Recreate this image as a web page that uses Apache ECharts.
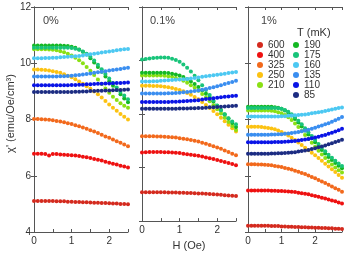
<!DOCTYPE html>
<html><head><meta charset="utf-8">
<script src="https://cdn.jsdelivr.net/npm/echarts@6/dist/echarts.min.js"></script>
<style>html,body{margin:0;padding:0;background:#fff}#c{width:345px;height:256px}</style>
</head><body><div id="c"></div><script>
// Field values (Oe)
const hA = [0,0.1,0.2,0.3,0.4,0.5,0.6,0.7,0.8,0.9,1.0,1.1,1.2,1.3,1.4,1.5,1.6,1.7,1.8,1.9,2.0,2.1,2.2,2.3,2.4,2.5];
const hC = [0,0.1,0.2,0.3,0.4,0.5,0.6,0.7,0.8,0.9,1.0,1.1,1.2,1.3,1.4,1.5,1.6,1.7,1.8,1.9,2.0,2.1,2.2,2.3,2.4,2.5,2.6,2.7,2.8];
const temps = ['600','400','325','250','210','190','175','160','135','110','85'];
const panelLabels = ['0%','0.1%','1%'];
const yTicks = [4,6,8,10,12];
const xTicks = [0,1,2];

// Panel 0%
const p0_600 = [5.10,5.10,5.10,5.10,5.10,5.10,5.09,5.09,5.09,5.08,5.08,5.07,5.07,5.06,5.06,5.05,5.04,5.04,5.03,5.03,5.02,5.01,5.01,5.00,5.00,4.99];
const p0_400 = [6.78,6.78,6.78,6.77,6.72,6.77,6.77,6.76,6.75,6.74,6.73,6.72,6.70,6.68,6.66,6.63,6.60,6.57,6.54,6.50,6.46,6.43,6.40,6.36,6.33,6.29];
const p0_325 = [8.02,8.02,8.01,8.00,7.99,7.97,7.95,7.93,7.90,7.87,7.84,7.80,7.76,7.72,7.67,7.62,7.57,7.52,7.46,7.40,7.35,7.29,7.23,7.17,7.11,7.05];
const p0_250 = [9.78,9.78,9.77,9.76,9.74,9.72,9.69,9.66,9.61,9.56,9.50,9.43,9.35,9.27,9.18,9.09,9.00,8.90,8.78,8.66,8.53,8.42,8.31,8.20,8.10,8.00];
const p0_210 = [10.50,10.50,10.50,10.50,10.49,10.48,10.46,10.43,10.39,10.34,10.28,10.20,10.11,10.00,9.87,9.73,9.58,9.42,9.26,9.10,8.95,8.81,8.69,8.58,8.49,8.42];
const p0_190 = [10.63,10.63,10.63,10.63,10.63,10.63,10.63,10.63,10.62,10.61,10.59,10.55,10.49,10.41,10.31,10.18,10.03,9.87,9.70,9.53,9.36,9.20,9.05,8.90,8.75,8.61];
const p0_175 = [10.55,10.55,10.55,10.55,10.55,10.55,10.55,10.55,10.55,10.55,10.54,10.52,10.48,10.42,10.34,10.23,10.10,9.95,9.79,9.62,9.46,9.30,9.14,8.99,8.85,8.72];
const p0_160 = [10.18,10.18,10.18,10.19,10.19,10.20,10.20,10.21,10.22,10.23,10.24,10.25,10.26,10.28,10.30,10.32,10.34,10.36,10.38,10.40,10.42,10.44,10.46,10.48,10.50,10.51];
const p0_135 = [9.53,9.53,9.53,9.53,9.53,9.53,9.53,9.54,9.54,9.55,9.56,9.57,9.58,9.60,9.62,9.64,9.66,9.68,9.70,9.72,9.74,9.76,9.78,9.80,9.82,9.84];
const p0_110 = [9.22,9.22,9.22,9.22,9.22,9.22,9.22,9.22,9.22,9.22,9.23,9.23,9.24,9.24,9.25,9.25,9.26,9.27,9.27,9.28,9.28,9.29,9.30,9.30,9.31,9.32];
const p0_85  = [8.98,8.98,8.98,8.98,8.98,8.98,8.98,8.98,8.98,8.98,8.98,8.99,8.99,9.00,9.00,9.01,9.01,9.02,9.02,9.03,9.03,9.04,9.05,9.05,9.06,9.07];

// Panel 0.1%
const p1_600 = [5.08,5.08,5.08,5.08,5.08,5.08,5.08,5.07,5.07,5.07,5.06,5.06,5.05,5.05,5.04,5.03,5.03,5.02,5.01,5.00,4.99,4.98,4.97,4.96,4.95,4.94];
const p1_400 = [6.56,6.57,6.58,6.58,6.58,6.58,6.57,6.57,6.56,6.55,6.54,6.52,6.50,6.48,6.46,6.44,6.41,6.38,6.35,6.32,6.28,6.25,6.21,6.17,6.13,6.09];
const p1_325 = [7.17,7.17,7.17,7.17,7.16,7.16,7.15,7.14,7.13,7.12,7.10,7.08,7.06,7.03,7.00,6.97,6.93,6.89,6.84,6.80,6.75,6.70,6.64,6.58,6.52,6.46];
const p1_250 = [9.06,9.06,9.06,9.05,9.05,9.04,9.02,9.00,8.97,8.94,8.90,8.85,8.79,8.72,8.64,8.55,8.45,8.34,8.23,8.11,7.99,7.86,7.73,7.60,7.47,7.35];
const p1_210 = [9.44,9.44,9.44,9.44,9.44,9.44,9.43,9.41,9.39,9.35,9.30,9.24,9.17,9.08,8.98,8.87,8.75,8.62,8.48,8.33,8.18,8.02,7.86,7.70,7.55,7.40];
const p1_190 = [9.54,9.54,9.54,9.54,9.54,9.54,9.54,9.53,9.51,9.48,9.44,9.38,9.31,9.22,9.12,9.01,8.89,8.76,8.62,8.47,8.31,8.15,7.99,7.83,7.67,7.52];
const p1_175 = [10.04,10.06,10.08,10.09,10.10,10.11,10.11,10.10,10.07,10.02,9.95,9.85,9.73,9.59,9.43,9.26,9.08,8.90,8.71,8.51,8.32,8.14,7.98,7.84,7.72,7.62];
const p1_160 = [9.22,9.22,9.22,9.23,9.23,9.24,9.25,9.26,9.27,9.28,9.29,9.30,9.31,9.33,9.35,9.37,9.39,9.41,9.43,9.45,9.47,9.49,9.51,9.53,9.55,9.57];
const p1_135 = [8.77,8.77,8.77,8.77,8.77,8.77,8.77,8.78,8.78,8.79,8.80,8.81,8.82,8.84,8.86,8.88,8.91,8.94,8.97,9.00,9.04,9.08,9.12,9.16,9.20,9.24];
const p1_110 = [8.45,8.45,8.45,8.45,8.45,8.45,8.45,8.45,8.46,8.46,8.47,8.48,8.49,8.50,8.51,8.52,8.54,8.56,8.57,8.59,8.61,8.63,8.65,8.66,8.67,8.68];
const p1_85  = [8.20,8.20,8.20,8.20,8.20,8.20,8.20,8.20,8.20,8.20,8.21,8.21,8.21,8.22,8.22,8.23,8.23,8.24,8.25,8.25,8.26,8.27,8.28,8.29,8.30,8.31];

// Panel 1%
const p2_600 = [4.22,4.22,4.22,4.22,4.22,4.22,4.22,4.21,4.21,4.21,4.20,4.20,4.19,4.19,4.18,4.18,4.17,4.17,4.16,4.16,4.15,4.15,4.14,4.14,4.13,4.13,4.12,4.12,4.11];
const p2_400 = [5.48,5.48,5.48,5.48,5.48,5.48,5.48,5.47,5.47,5.46,5.46,5.45,5.44,5.43,5.42,5.40,5.38,5.36,5.34,5.31,5.28,5.25,5.22,5.19,5.16,5.12,5.09,5.05,5.01];
const p2_325 = [6.41,6.41,6.41,6.40,6.40,6.39,6.38,6.37,6.35,6.33,6.31,6.28,6.25,6.22,6.18,6.14,6.10,6.06,6.01,5.96,5.91,5.85,5.80,5.74,5.68,5.62,5.56,5.50,5.43];
const p2_250 = [7.74,7.74,7.74,7.74,7.73,7.72,7.70,7.68,7.65,7.61,7.56,7.50,7.43,7.35,7.27,7.18,7.09,7.00,6.91,6.82,6.73,6.63,6.53,6.43,6.33,6.23,6.13,6.03,5.93];
const p2_210 = [8.32,8.32,8.32,8.32,8.32,8.32,8.32,8.31,8.29,8.26,8.22,8.16,8.08,7.98,7.86,7.73,7.59,7.45,7.31,7.17,7.03,6.89,6.76,6.63,6.51,6.40,6.29,6.20,6.12];
const p2_190 = [8.45,8.45,8.45,8.45,8.45,8.45,8.45,8.45,8.44,8.42,8.38,8.32,8.24,8.14,8.02,7.89,7.75,7.61,7.47,7.33,7.19,7.05,6.92,6.79,6.67,6.56,6.45,6.36,6.27];
const p2_175 = [8.41,8.41,8.41,8.41,8.41,8.41,8.41,8.41,8.41,8.40,8.38,8.34,8.28,8.19,8.08,7.96,7.83,7.69,7.55,7.41,7.27,7.13,7.00,6.87,6.75,6.64,6.53,6.44,6.35];
const p2_160 = [8.11,8.11,8.11,8.11,8.11,8.11,8.11,8.11,8.11,8.11,8.12,8.12,8.13,8.14,8.15,8.16,8.17,8.18,8.20,8.22,8.24,8.26,8.28,8.30,8.33,8.36,8.38,8.41,8.43];
const p2_135 = [7.46,7.46,7.46,7.46,7.46,7.46,7.46,7.47,7.47,7.48,7.48,7.49,7.50,7.52,7.54,7.56,7.58,7.61,7.64,7.67,7.71,7.75,7.79,7.83,7.87,7.92,7.97,8.03,8.09];
const p2_110 = [7.19,7.19,7.19,7.19,7.19,7.19,7.19,7.19,7.20,7.20,7.20,7.21,7.22,7.23,7.24,7.25,7.27,7.29,7.31,7.33,7.36,7.39,7.42,7.45,7.49,7.53,7.57,7.62,7.67];
const p2_85  = [6.78,6.78,6.78,6.78,6.78,6.78,6.78,6.79,6.79,6.80,6.80,6.81,6.82,6.83,6.84,6.86,6.88,6.90,6.92,6.95,6.98,7.01,7.04,7.08,7.12,7.16,7.20,7.24,7.28];

const colors = {'600':'#d42a1e','400':'#ee1111','325':'#f2691c','250':'#fcc212','210':'#8ae014','190':'#14b824','175':'#18c47a','160':'#4cc8f2','135':'#3a8ef0','110':'#0a14e6','85':'#1c2c82'};

const panels = [
  {h: hA, max: 2.5, vals: [p0_600,p0_400,p0_325,p0_250,p0_210,p0_190,p0_175,p0_160,p0_135,p0_110,p0_85]},
  {h: hA, max: 2.5, vals: [p1_600,p1_400,p1_325,p1_250,p1_210,p1_190,p1_175,p1_160,p1_135,p1_110,p1_85]},
  {h: hC, max: 2.8, vals: [p2_600,p2_400,p2_325,p2_250,p2_210,p2_190,p2_175,p2_160,p2_135,p2_110,p2_85]}
];
const gridLefts = [34, 142, 248];
const FONT = 'Liberation Sans, Arial, sans-serif';
const AX = '#555';

const grid = gridLefts.map(l => ({left: l, top: 7, width: 94, height: 225}));
const xAxis = [], yAxis = [], series = [];
panels.forEach((p, i) => {
  const base = {gridIndex: i, type: 'value', min: 0, max: p.max, interval: 0.5,
    axisLine: {lineStyle: {color: AX, width: 1}},
    axisTick: {inside: true, length: 3, lineStyle: {color: AX}},
    splitLine: {show: false}};
  xAxis.push(Object.assign({}, base, {position: 'bottom',
    axisLabel: {fontSize: 10, color: '#333', fontFamily: FONT, margin: 4,
      formatter: v => xTicks.includes(v) ? String(v) : ''},
    name: i === 1 ? 'H (Oe)' : '', nameLocation: 'middle', nameGap: 13,
    nameTextStyle: {fontSize: 11, color: '#333', fontFamily: FONT}}));
  xAxis.push(Object.assign({}, base, {position: 'top', axisLabel: {show: false}}));
  const ybase = {gridIndex: i, type: 'value', min: yTicks[0], max: yTicks[yTicks.length-1], interval: 2,
    axisLine: {lineStyle: {color: AX, width: 1}},
    axisTick: {inside: true, length: 3, lineStyle: {color: AX}},
    splitLine: {show: false}};
  yAxis.push(Object.assign({}, ybase, {position: 'left',
    axisLabel: {show: i === 0, fontSize: 10, color: '#333', fontFamily: FONT, margin: 3},
    name: i === 0 ? "χ' (emu/Oe/cm³)" : '', nameLocation: 'middle', nameGap: 17,
    nameTextStyle: {fontSize: 11, color: '#333', fontFamily: FONT, padding: [0, 0, 0, 12]}}));
  yAxis.push(Object.assign({}, ybase, {position: 'right', axisLabel: {show: false}}));
  temps.forEach((t, k) => {
    series.push({type: 'line', name: t, xAxisIndex: 2*i, yAxisIndex: 2*i,
      data: p.h.map((h, j) => [h, p.vals[k][j]]),
      symbol: 'circle', symbolSize: 4, showSymbol: true,
      lineStyle: {width: 0.8, opacity: 0.35, color: colors[t]},
      itemStyle: {color: colors[t]}, silent: true, animation: false});
  });
});

const title = panelLabels.map((s, i) => ({text: s, left: [43, 150, 261][i], top: 15, padding: 0,
  textStyle: {fontSize: 11, fontWeight: 'normal', color: '#444', fontFamily: FONT}}));
title.push({text: 'T (mK)', left: 297, top: 27, padding: 0,
  textStyle: {fontSize: 11, fontWeight: 'normal', color: '#333', fontFamily: FONT}});

const legendCommon = {orient: 'vertical', top: 40, padding: 0, itemWidth: 6, itemHeight: 6, itemGap: 0,
  icon: 'circle', selectedMode: false, textStyle: {fontSize: 10, color: '#333', fontFamily: FONT, lineHeight: 9.6}};
const legend = [
  Object.assign({}, legendCommon, {left: 257, itemTextGap: 8, data: temps.slice(0, 5)}),
  Object.assign({}, legendCommon, {left: 293, itemTextGap: 3, data: temps.slice(5)})
];

const chart = echarts.init(document.getElementById('c'), null, {renderer: 'canvas'});
chart.setOption({animation: false, backgroundColor: '#fff', grid, xAxis, yAxis, series, title, legend});
</script></body></html>
